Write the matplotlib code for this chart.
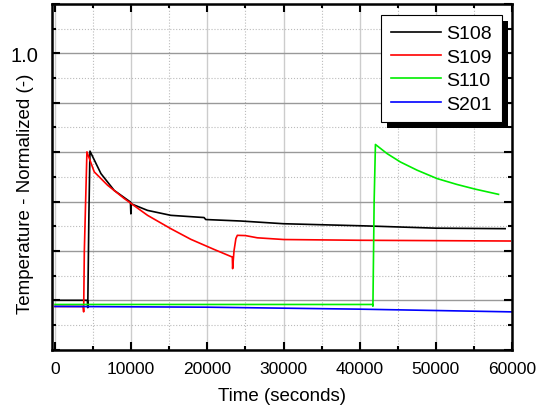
import matplotlib
matplotlib.use("Agg")
import matplotlib.pyplot as plt
from matplotlib.patches import Rectangle
from matplotlib.ticker import MultipleLocator

plt.rcParams['font.family'] = ['Liberation Sans', 'DejaVu Sans']

# data (time in seconds, normalized temperature)
s108_t = [0, 4250, 4300, 4450, 4590, 6030, 7770, 9900, 9960, 10000, 10060, 12150,
          15200, 19570, 19790, 24380, 30000, 41000, 50000, 59100]
s108_y = [0.0, 0.0, -0.03, 0.35, 0.604, 0.513, 0.445, 0.398, 0.35, 0.393, 0.39, 0.364,
          0.344, 0.335, 0.327, 0.321, 0.31, 0.301, 0.292, 0.29]

s109_t = [0, 3700, 3760, 3850, 4190, 5150, 6900, 9090, 12150, 15200, 17820, 20880,
          23280, 23320, 23500, 23750, 23940, 25000, 26560, 30050, 40000, 59760]
s109_y = [-0.025, -0.025, -0.047, 0.2, 0.601, 0.52, 0.466, 0.412, 0.344, 0.29, 0.247, 0.206,
          0.175, 0.128, 0.2, 0.25, 0.263, 0.262, 0.253, 0.246, 0.243, 0.24]

s110_t = [0, 41700, 41740, 41900, 42070, 43600, 45350, 47530, 50150, 52780, 55180, 58230]
s110_y = [-0.017, -0.017, -0.024, 0.4, 0.631, 0.594, 0.56, 0.527, 0.493, 0.469, 0.45, 0.429]

s201_t = [0, 20000, 40000, 60000]
s201_y = [-0.025, -0.028, -0.036, -0.047]

fig = plt.figure(figsize=(5.47, 4.14), dpi=100)
ax = fig.add_axes([0.095, 0.153, 0.841, 0.835])

ax.plot(s108_t, s108_y, color='black', lw=1.2, label='S108')
ax.plot(s109_t, s109_y, color='red', lw=1.2, label='S109')
ax.plot(s110_t, s110_y, color='#00ee00', lw=1.2, label='S110')
ax.plot(s201_t, s201_y, color='blue', lw=1.2, label='S201')

ax.set_xlim(-400, 60000)
ax.set_ylim(-0.2, 1.2)
ax.xaxis.set_major_locator(MultipleLocator(10000))
ax.xaxis.set_minor_locator(MultipleLocator(5000))
ax.set_yticks([-0.2, 0.0, 0.2, 0.4, 0.6, 0.8, 1.0, 1.2])
ax.set_yticklabels(['', '', '', '', '', '', '1.0', ''])
ax.yaxis.set_minor_locator(MultipleLocator(0.1))

ax.grid(which='major', axis='y', color='#999999', lw=1.0, ls='-')
ax.grid(which='major', axis='x', color='#cccccc', lw=1.0, ls='-')
ax.grid(which='minor', color='#bbbbbb', lw=0.8, ls=':')
ax.set_axisbelow(True)

ax.tick_params(which='both', direction='in', top=True, right=True, labelsize=12.5, width=1.5)
ax.tick_params(which='major', length=6)
ax.tick_params(which='minor', length=3)
ax.tick_params(axis='x', pad=8)
ax.tick_params(axis='y', pad=9.5, labelsize=14.5)
for sp in ax.spines.values():
    sp.set_linewidth(1.8)

ax.set_xlabel('Time (seconds)', fontsize=13.5, labelpad=8)
ax.set_ylabel('Temperature - Normalized (-)', fontsize=13.5)
ax.yaxis.set_label_coords(-0.04, 0.455)

leg = ax.legend(loc='upper right', bbox_to_anchor=(0.978, 0.968), borderaxespad=0,
                fontsize=14, fancybox=False, edgecolor='black', framealpha=1,
                handlelength=2.6, handletextpad=0.26, labelspacing=0.3, borderpad=0.5)
leg.get_frame().set_linewidth(0.8)
leg.set_zorder(6)

# black drop shadow behind the legend
fig.canvas.draw()
bb = leg.get_window_extent()
inv = ax.transAxes.inverted()
x0, y0 = inv.transform((bb.x0 + 6, bb.y0 - 6))
x1, y1 = inv.transform((bb.x1 + 6, bb.y1 - 6))
ax.add_patch(Rectangle((x0, y0), x1 - x0, y1 - y0, transform=ax.transAxes,
                       facecolor='black', edgecolor='none', zorder=5, clip_on=False))

fig.savefig('out.png', dpi=100)
